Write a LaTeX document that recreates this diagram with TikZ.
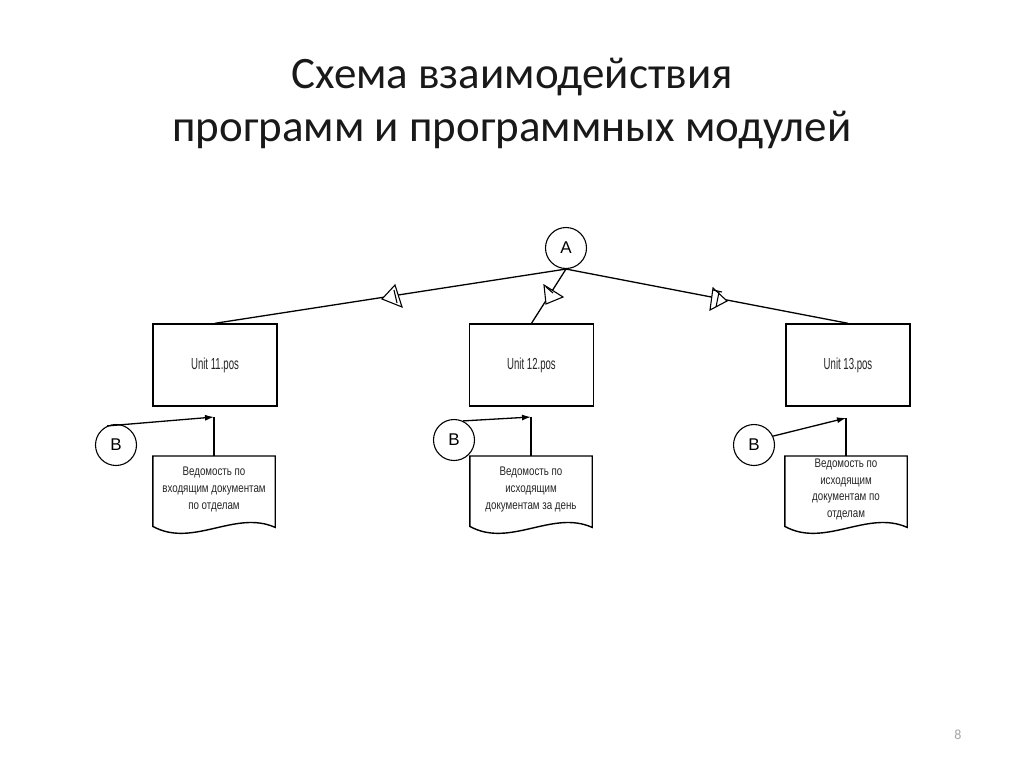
\documentclass[tikz,border=0pt]{standalone}
\usepackage{fontspec}
\setmainfont{Carlito}
\newfontfamily\gostbox[FakeStretch=0.6]{Liberation Sans}
\newfontfamily\gostdoc[FakeStretch=0.78]{Liberation Sans}
\newfontfamily\arialf{Liberation Sans}
\usetikzlibrary{arrows.meta,calc}
\tikzset{
  unitbox/.style={draw, line width=1.4pt, minimum width=124pt, minimum height=82pt, inner sep=0pt,
    font=\gostbox\fontsize{16}{18}\selectfont, text=black!85},
  conncircle/.style={circle, draw, line width=1.1pt, minimum size=41pt, inner sep=0pt,
    font=\arialf\fontsize{17}{17}\selectfont},
  docnode/.style={minimum width=122pt, minimum height=66pt, inner sep=0pt, align=center, anchor=north,
    font=\gostdoc\fontsize{12.5}{17}\selectfont, text=black!85},
  docline/.style={draw, line width=1.4pt},
  flow/.style={line width=1.3pt},
  flowarrow/.style={line width=1.3pt, -{Latex[length=9pt,width=6pt]}},
  tri/.style={line width=1.1pt, fill=white},
  title/.style={font=\fontsize{45}{53}\selectfont, align=center, text=black!90},
}
\begin{document}
\begin{tikzpicture}[x=1pt,y=-1pt]
\fill[white] (0,0) rectangle (1024,768);
\useasboundingbox (0,0) rectangle (1024,768);

\node[title] (title) at (512,103) {Схема взаимодействия\\программ и программных модулей};
\node[text=gray!70, font=\fontsize{14}{14}\selectfont] (pg) at (958,735) {8};

\node[conncircle] (A) at (566,248) {A};

\node[unitbox] (b1) at (215,365) {Unit 11.pos};
\node[unitbox] (b2) at (531.5,365) {Unit 12.pos};
\node[unitbox] (b3) at (848,365) {Unit 13.pos};

\draw[flow] (A.south) -- (b1.north);
\draw[flow] (A.south) -- (b2.north);
\draw[flow] (A.south) -- (b3.north);

% flow triangles
\draw[tri] (382,299) -- (395,285) -- (402,307) -- cycle;
\draw[line width=1.1pt] (394,290) -- (397,303);
\draw[tri] (563,297) -- (544,285) -- (546,304) -- cycle;
\draw[line width=1.1pt] (546,287) -- (553,293);
\draw[tri] (727,301) -- (713,288) -- (710,310) -- cycle;
\draw[line width=1.1pt] (719,292) -- (716,307);
\draw[line width=1.1pt] (713,290) -- (722,292);

% documents
\node[docnode] (d1) at (214,456) {Ведомость по\\входящим документам\\по отделам};
\node[docnode] (d2) at (531,456) {Ведомость по\\исходящим\\документам за день};
\node[docnode, font=\gostdoc\fontsize{12.5}{16.5}\selectfont] (d3) at (846,456) {Ведомость по\\исходящим\\документам по\\отделам};
\foreach \d in {d1,d2,d3}{
  \draw[docline] (\d.north west) -- ($(\d.south west)+(0,4)$)
    .. controls +(40,22) and +(-40,-18) .. ($(\d.south east)+(0,5)$)
    -- (\d.north east) -- cycle;
}

% B connectors
\node[conncircle] (B1) at (116,445) {B};
\node[conncircle] (B2) at (454,440) {B};
\node[conncircle] (B3) at (754,445) {B};

\coordinate (t1) at ($(d1.north)+(0,-39)$);
\coordinate (t2) at ($(d2.north)+(0,-39)$);
\coordinate (t3) at ($(d3.north)+(0,-38)$);
\draw[flow] (d1.north) -- (t1);
\draw[flow] (d2.north) -- (t2);
\draw[flow] (d3.north) -- (t3);
\draw[flowarrow] (B1.115) -- (t1);
\draw[flowarrow] (B2.65) -- (t2);
\draw[flowarrow] (B3.25) -- (t3);
\end{tikzpicture}
\end{document}
